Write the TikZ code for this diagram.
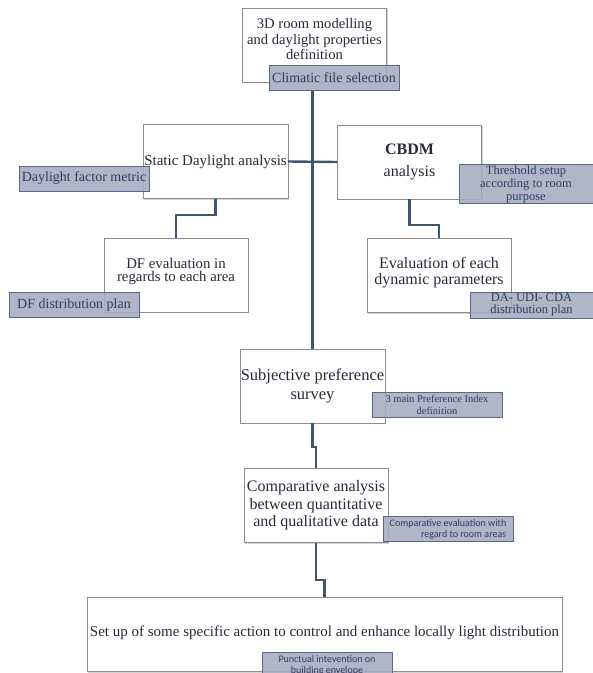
\documentclass[tikz,border=0pt]{standalone}
\usepackage{fontspec}
\setmainfont{Liberation Serif}
\newfontfamily\calibri{Carlito}
\usetikzlibrary{shadows}
\usetikzlibrary{positioning}

\definecolor{linkcol}{RGB}{62,86,110}
\definecolor{tagfill}{RGB}{168,173,194}
\definecolor{tagline}{RGB}{88,104,138}
\definecolor{tagtext}{RGB}{48,60,98}
\definecolor{boxtext}{RGB}{40,42,55}

\begin{document}
\begin{tikzpicture}
  [x=1pt,y=-1pt,
  box/.style={rectangle,draw=black!45,fill=white,inner sep=1pt,minimum width=144pt,minimum height=74pt,align=center,text=boxtext,font=\fontsize{16}{17.5}\selectfont,drop shadow={shadow xshift=1.2pt,shadow yshift=-1.2pt,opacity=.35}},
  tag/.style={rectangle,draw=tagline,line width=1pt,fill=tagfill,fill opacity=.9,text opacity=1,text=tagtext,minimum width=130pt,minimum height=25pt,inner sep=1pt,align=center,font=\fontsize{14}{12}\selectfont},
  tagsmall/.style={tag,font=\fontsize{10.5}{12}\selectfont},
  tagsans/.style={tag,font=\calibri\fontsize{10}{11}\selectfont},
  link/.style={draw=linkcol,line width=2.4pt}]
  \useasboundingbox (0,0) rectangle (593,673);
  \clip (0,0) rectangle (593,673);

  % boxes
  \node[box,font=\fontsize{14.6}{15.5}\selectfont,text depth=12pt] (model) at (314.5,45) {3D room modelling\\and daylight properties\\definition};
  \node[box,font=\fontsize{15}{16.5}\selectfont] (static) at (215.5,161.5) {Static Daylight analysis};
  \node[box] (cbdm) at (409.5,162) {\textbf{CBDM}\\[5pt]analysis};
  \node[box,font=\fontsize{14.8}{13.5}\selectfont,text depth=10pt] (dfev) at (176,275) {DF evaluation in\\regards to each area};
  \node[box,font=\fontsize{16}{16.5}\selectfont,text depth=9pt] (dyn) at (439,275.5) {Evaluation of each\\dynamic parameters};
  \node[box,font=\fontsize{16.5}{19}\selectfont] (subj) at (312.5,386) {Subjective preference\\survey};
  \node[box] (comp) at (316,505.5) {Comparative analysis\\between quantitative\\and qualitative data};
  \node[box,minimum width=475pt,font=\fontsize{15}{16}\selectfont,text depth=6pt] (final) at (324.5,634.5) {Set up of some specific action to control and enhance locally light distribution};

  % tags
  \node[tag] (clim) at (334,77.5) {Climatic file selection};
  \node[tag] (dfm) at (84,178.5) {Daylight factor metric};
  \node[tag,minimum width=134pt,minimum height=37pt,font=\fontsize{12.5}{13}\selectfont] (thr) at (526,184) {Threshold setup\\according to room\\purpose};
  \node[tag] (dfd) at (74,305) {DF distribution plan};
  \node[tag,minimum width=123pt,minimum height=26pt,font=\fontsize{12.5}{12}\selectfont] (dacda) at (531.5,305) {DA- UDI- CDA\\distribution plan};
  \node[tagsmall] (pref) at (437,404.5) {3 main Preference Index\\definition};
  \node[tagsans,align=right] (compreg) at (448,529) {Comparative evaluation with\\regard to room areas};
  \node[tagsans] (punct) at (327,665) {Punctual intevention on\\building envelope};

  % links
  \draw[link] (clim.south -| subj.north) -- (subj.north);
  \draw[link] (static.east) -- (cbdm.west);
  \draw[link] (static.south) -- ++(0,16) -| (dfev.north);
  \draw[link] (cbdm.south) -- ++(0,26) -| (dyn.north);
  \draw[link] (subj.south) -- ++(0,24) -| (comp.north);
  \draw[link] (comp.south) -- ++(0,37) -| (final.north);
\end{tikzpicture}
\end{document}
